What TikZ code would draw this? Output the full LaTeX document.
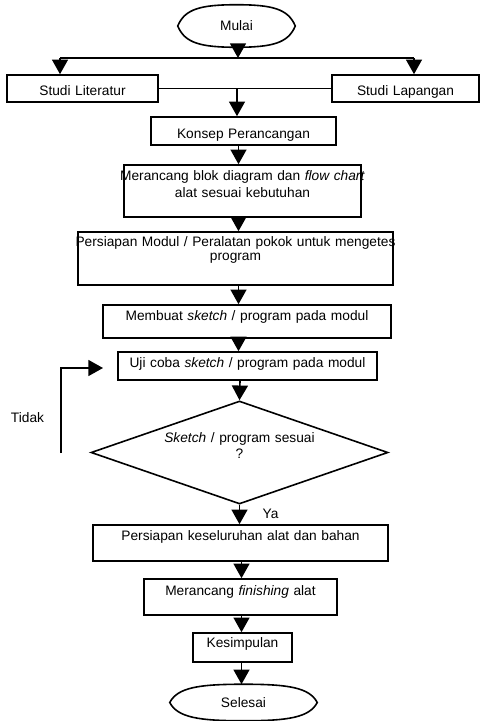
\documentclass[tikz,border=0pt]{standalone}
\usepackage{fontspec}
\setmainfont{Liberation Sans}
\usetikzlibrary{arrows.meta,shapes.geometric,calc}

\begin{document}
\begin{tikzpicture}[x=0.75pt,y=-0.75pt,
  base/.style={font=\fontsize{10.3}{12}\selectfont},
  box/.style={base,draw,line width=1.2pt,inner sep=0pt,align=center},
  bx/.style n args={4}{box,minimum width=#1,minimum height=#2,text width=#1,text height=#3,text depth=#4},
  term/.style={base,inner sep=0pt},
  dec/.style={base,draw,line width=1.2pt,diamond,inner sep=0pt,align=center},
  lbl/.style={base,inner sep=0pt,anchor=base},
  conn/.style={line width=1.2pt},
  arr/.style={line width=1.2pt,-{Triangle[width=12pt,length=11pt]}},
]
\path[use as bounding box,fill=white] (0,0) rectangle (480,721);

% nodes
\node[term,minimum width=87.75pt,minimum height=31.5pt] (mulai) at (236.5,26) {Mulai};
\node[bx={113.25pt}{20.25pt}{15pt}{5.25pt}] (lit) at (82.5,88.5) {Studi Literatur};
\node[bx={110.25pt}{20.25pt}{15pt}{5.25pt}] (lap) at (405.5,88.5) {Studi Lapangan};
\node[bx={138.75pt}{21pt}{15.75pt}{5.25pt}] (konsep) at (243.5,131) {Konsep Perancangan};
\node[bx={177.75pt}{39pt}{11.25pt}{27.75pt},font=\fontsize{10.3}{12.75}\selectfont] (blok) at (242.5,191)
  {\makebox[\linewidth]{Merancang blok diagram dan \textit{flow chart}}\\alat sesuai kebutuhan};
\node[bx={236.25pt}{39.75pt}{10.5pt}{29.25pt},font=\fontsize{10.3}{11}\selectfont] (modul) at (235.5,258.5)
  {\makebox[\linewidth]{Persiapan Modul / Peralatan pokok untuk mengetes}\\program};
\node[bx={216pt}{24.75pt}{11.25pt}{13.5pt}] (membuat) at (247,321.5) {Membuat \textit{sketch} / program pada modul};
\node[bx={194.25pt}{21pt}{11.25pt}{9.75pt}] (uji) at (247.5,366) {Uji coba \textit{sketch} / program pada modul};
\node[dec,minimum width=222.75pt,minimum height=77.25pt,shape aspect=2.88,text width=116.25pt,text height=7.5pt,text depth=23.25pt] (cek) at (239.5,452.5)
  {\makebox[\linewidth]{\textit{Sketch} / program sesuai}\\?};
\node[bx={221.25pt}{27pt}{11.25pt}{15.75pt}] (pk) at (240.5,543) {Persiapan keseluruhan alat dan bahan};
\node[bx={144.75pt}{27pt}{12pt}{15pt}] (fin) at (240.5,597) {Merancang \textit{finishing} alat};
\node[bx={74.25pt}{21.75pt}{10.5pt}{11.25pt}] (kes) at (242.5,647.5) {Kesimpulan};
\node[term,minimum width=110.25pt,minimum height=27pt] (selesai) at (243.5,702.5) {Selesai};
\node[lbl] (tidak) at (27.5,422) {Tidak};
\node[lbl] (ya) at (270.5,518) {Ya};

% terminal outlines
\draw[conn] (mulai.west) .. controls +(7,-17) and +(-36,0) .. (mulai.north)
  .. controls +(36,0) and +(-7,-17) .. (mulai.east)
  .. controls +(-7,17) and +(36,0) .. (mulai.south)
  .. controls +(-36,0) and +(7,17) .. (mulai.west) -- cycle;
\draw[conn] (selesai.west) .. controls +(8,-15) and +(-45,0) .. (selesai.north)
  .. controls +(45,0) and +(-8,-15) .. (selesai.east)
  .. controls +(-8,15) and +(45,0) .. (selesai.south)
  .. controls +(-45,0) and +(8,15) .. (selesai.west) -- cycle;

% helper coordinates
\coordinate (hl) at (60,58);
\coordinate (hr) at (414,58);
\coordinate (top) at (238,58);
\coordinate (col1) at (238.5,0);
\coordinate (col2) at (240,0);
\coordinate (col3) at (241.5,0);
\coordinate (mid) at (237,0);
\coordinate (nostart) at (61,453);
\coordinate (notip) at (103,368);

% connectors
\draw[arr] (mulai.south -| top) -- (top);
\draw[conn] (hl) -- (hr);
\draw[arr] (hl) -- (hl |- lit.north);
\draw[arr] (hr) -- (hr |- lap.north);
\draw[conn] (lit.east) -- (lap.west);
\draw[arr] (lit.east -| mid) -- (konsep.north -| mid);
\draw[arr] (konsep.south -| col1) -- (blok.north -| col1);
\draw[arr] (blok.south -| col1) -- (modul.north -| col1);
\draw[arr] (modul.south -| col1) -- (membuat.north -| col1);
\draw[arr] (membuat.south -| col1) -- (uji.north -| col1);
\draw[arr] (uji.south -| col2) -- (cek.north);
\draw[arr] (cek.south) -- (cek.south |- pk.north);
\draw[arr] (pk.south -| col3) -- (fin.north -| col3);
\draw[arr] (fin.south -| col3) -- (kes.north -| col3);
\draw[arr] (kes.south -| col3) -- (selesai.north -| col3);
\draw[arr] (nostart) |- (notip);
\end{tikzpicture}
\end{document}
